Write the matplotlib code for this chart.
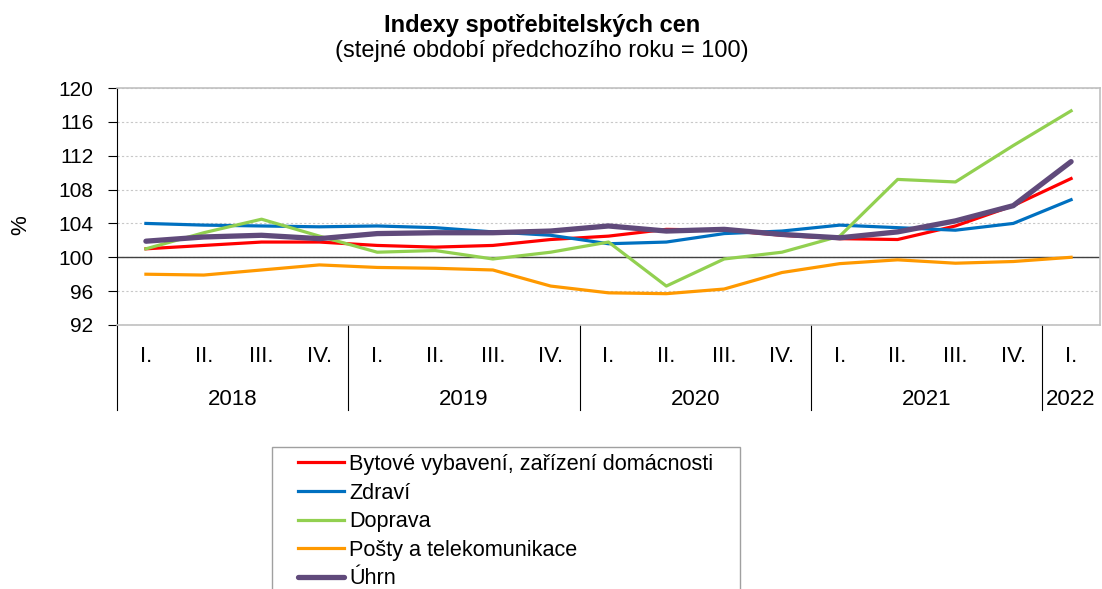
import numpy as np
import matplotlib.pyplot as plt
import matplotlib.transforms as mtransforms
from matplotlib.patches import Rectangle

plt.rcParams['font.family'] = ['Liberation Sans', 'DejaVu Sans']

# quarterly categories
quarters = ['I.', 'II.', 'III.', 'IV.'] * 4 + ['I.']
years = ['2018', '2019', '2020', '2021', '2022']
year_centers = [1.5, 5.5, 9.5, 13.5, 16]

# series (same period previous year = 100)
bytove = [101.0, 101.4, 101.8, 101.8, 101.4, 101.2, 101.4, 102.1, 102.5,
          103.3, 103.2, 102.6, 102.2, 102.1, 103.7, 106.1, 109.3]
zdravi = [104.0, 103.8, 103.7, 103.6, 103.7, 103.5, 103.0, 102.6, 101.6,
          101.8, 102.8, 103.1, 103.8, 103.5, 103.2, 104.0, 106.8]
doprava = [101.0, 102.9, 104.5, 102.5, 100.6, 100.8, 99.8, 100.6, 101.8,
           96.6, 99.8, 100.6, 102.5, 109.2, 108.9, 113.2, 117.3]
posty = [98.0, 97.9, 98.5, 99.1, 98.8, 98.7, 98.5, 96.6, 95.8,
         95.7, 96.25, 98.2, 99.25, 99.7, 99.3, 99.5, 100.0]
uhrn = [101.9, 102.4, 102.6, 102.2, 102.8, 102.9, 102.9, 103.1, 103.7,
        103.1, 103.3, 102.7, 102.3, 103.0, 104.3, 106.1, 111.3]

W, H = 1102, 589
fig = plt.figure(figsize=(W / 100, H / 100), dpi=100)
ax = fig.add_axes([117 / W, 1 - 325 / H, (1100 - 117) / W, 237 / H])

x = np.arange(len(quarters))
lns = []
lns += ax.plot(x, bytove, color='#FF0000', lw=2.3, label='Bytové vybavení, zařízení domácnosti')
lns += ax.plot(x, zdravi, color='#0070C0', lw=2.3, label='Zdraví')
lns += ax.plot(x, doprava, color='#92D050', lw=2.3, label='Doprava')
lns += ax.plot(x, posty, color='#FF9900', lw=2.3, label='Pošty a telekomunikace')
lns += ax.plot(x, uhrn, color='#604A7B', lw=3.8, label='Úhrn',
               solid_capstyle='round')

ax.set_xlim(-0.5, 16.5)
ax.set_ylim(92, 120)
ax.set_yticks(np.arange(92, 121, 4))
ax.tick_params(axis='y', labelsize=15, length=6.5, width=0.8, color='black', pad=10.5)
ax.tick_params(axis='x', length=0, labelbottom=False)
ax.yaxis.grid(True, ls=(0, (2, 2)), color='#C8C8C8', lw=0.8)
ax.set_axisbelow(True)
ax.axhline(100, color='#404040', lw=1.0, zorder=1.5)

for s in ['top', 'right', 'bottom']:
    ax.spines[s].set_color('#C0C0C0')
    ax.spines[s].set_linewidth(1.2)
ax.spines['left'].set_color('black')
ax.spines['left'].set_linewidth(0.8)

# two-level category axis
trans = mtransforms.blended_transform_factory(ax.transData, ax.transAxes)
for i, q in enumerate(quarters):
    ax.text(i, -0.155, q, transform=trans, ha='center', va='baseline', fontsize=16)
for xc, yr in zip(year_centers, years):
    ax.text(xc, -0.338, yr, transform=trans, ha='center', va='baseline', fontsize=16)
for xs in [-0.5, 3.5, 7.5, 11.5, 15.5]:
    ax.plot([xs, xs], [0, -0.36], transform=trans, color='black', lw=0.8, clip_on=False)

fig.text(542 / W, 1 - 31.7 / H, 'Indexy spotřebitelských cen', ha='center',
         va='baseline', fontsize=17, fontweight='bold')
fig.text(542 / W, 1 - 57 / H, '(stejné období předchozího roku = 100)', ha='center',
         va='baseline', fontsize=17)
fig.text(21 / W, 1 - 225 / H, '%', rotation=90, ha='center', va='center', fontsize=16)

# legend with box running off the bottom edge
fig.patches.append(Rectangle((272 / W, -0.1), (740 - 272) / W, 0.1 + 1 - 447 / H,
                             transform=fig.transFigure, facecolor='white',
                             edgecolor='#A0A0A0', lw=1.0))
fig.legend(lns, [l.get_label() for l in lns], loc='upper left',
           bbox_to_anchor=(298 / W, 1 - 454 / H), frameon=False, fontsize=15.6,
           borderpad=0, borderaxespad=0, handlelength=2.1, handletextpad=0.25,
           labelspacing=0.35)

plt.savefig('out.png', dpi=100)
